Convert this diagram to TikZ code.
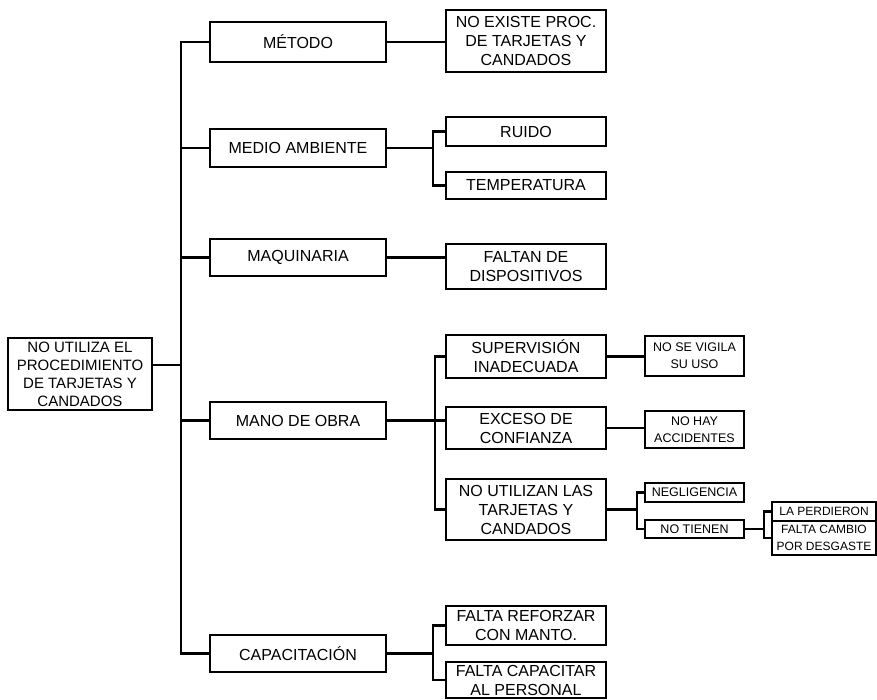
\documentclass[tikz,border=0pt]{standalone}
\usepackage{fontspec}
\setmainfont{Liberation Sans}
\tikzset{
  caja/.style={draw, line width=2.4pt, inner sep=0pt, align=center},
  cajauno/.style={caja, minimum width=176pt, font=\fontsize{16}{19}\selectfont},
  cajados/.style={caja, minimum width=160pt, font=\fontsize{16}{19}\selectfont},
  cajatres/.style={caja, minimum width=99pt, font=\fontsize{12.5}{17}\selectfont},
  cajacuatro/.style={caja, minimum width=104pt, font=\fontsize{12}{17}\selectfont},
  linea/.style={line width=2.4pt}
}
\begin{document}
\begin{tikzpicture}[x=1pt,y=-1pt]
\useasboundingbox (0,0) rectangle (877,699);
% raiz
\node[caja, minimum width=144pt, minimum height=72pt, font=\fontsize{15}{18}\selectfont] (raiz) at (80,374) {NO UTILIZA EL\\PROCEDIMIENTO\\DE TARJETAS Y\\CANDADOS};
% causas
\node[cajauno, minimum height=40pt] (metodo) at (298,42) {MÉTODO};
\node[cajauno, minimum height=38pt] (medio) at (298,148) {MEDIO AMBIENTE};
\node[cajauno, minimum height=37pt] (maq) at (298,257.5) {MAQUINARIA};
\node[cajauno, minimum height=37pt] (mano) at (298,420.5) {MANO DE OBRA};
\node[cajauno, minimum height=37pt] (capac) at (298,653.5) {CAPACITACIÓN};
% subcausas
\node[cajados, minimum height=62pt] (noexiste) at (526,41) {NO EXISTE PROC.\\DE TARJETAS Y\\CANDADOS};
\node[cajados, minimum height=29pt] (ruido) at (526,131.5) {RUIDO};
\node[cajados, minimum height=27pt] (temp) at (526,185.5) {TEMPERATURA};
\node[cajados, minimum height=45pt] (faltan) at (526,266.5) {FALTAN DE\\DISPOSITIVOS};
\node[cajados, minimum height=43pt] (superv) at (526,356.5) {SUPERVISIÓN\\INADECUADA};
\node[cajados, minimum height=42pt] (exceso) at (526,428) {EXCESO DE\\CONFIANZA};
\node[cajados, minimum height=61pt] (noutil) at (526,509.5) {NO UTILIZAN LAS\\TARJETAS Y\\CANDADOS};
\node[cajados, minimum height=39pt] (reforzar) at (526,625.5) {FALTA REFORZAR\\CON MANTO.};
\node[cajados, minimum height=36pt] (capacitar) at (526,680) {FALTA CAPACITAR\\AL PERSONAL};
% tercer nivel
\node[cajatres, minimum height=40pt] (vigila) at (694.5,356) {NO SE VIGILA\\SU USO};
\node[cajatres, minimum height=37pt] (nohay) at (694.5,429.5) {NO HAY\\ACCIDENTES};
\node[cajatres, minimum height=19pt] (neglig) at (694.5,492.5) {NEGLIGENCIA};
\node[cajatres, minimum height=18pt] (notienen) at (694.5,529) {NO TIENEN};
% cuarto nivel
\node[cajacuatro, minimum height=19pt] (perdieron) at (824,511.5) {LA PERDIERON};
\node[cajacuatro, minimum height=34pt] (cambio) at (824,538) {FALTA CAMBIO\\POR DESGASTE};
% lineas
\coordinate (tronco) at (181,0);
\coordinate (bmedio) at (433,0);
\coordinate (bmano) at (435,0);
\coordinate (bnoutil) at (637,0);
\coordinate (bnotienen) at (764,0);
\coordinate (bcapac) at (433,0);
\coordinate (raizsal) at ([yshift=9pt]raiz.east);
\draw[linea] (raizsal) -- (raizsal -| tronco);
\draw[linea] (metodo.west) -- (metodo.west -| tronco) -- (capac.west -| tronco) -- (capac.west);
\foreach \n in {medio,maq,mano}{\draw[linea] (\n.west -| tronco) -- (\n.west);}
\draw[linea] (metodo.east) -- (metodo.east -| noexiste.west);
\draw[linea] (medio.east) -- (medio.east -| bmedio);
\draw[linea] (ruido.west) -- (ruido.west -| bmedio) -- (temp.west -| bmedio) -- (temp.west);
\draw[linea] (maq.east) -- (maq.east -| faltan.west);
\draw[linea] (mano.east) -- (mano.east -| exceso.west);
\draw[linea] (superv.west) -- (superv.west -| bmano) -- (noutil.west -| bmano) -- (noutil.west);
\draw[linea] (superv.east) -- (superv.east -| vigila.west);
\draw[linea] (exceso.east) -- (exceso.east -| nohay.west);
\draw[linea] (noutil.east) -- (noutil.east -| bnoutil);
\draw[linea] (neglig.west) -- (neglig.west -| bnoutil) -- (notienen.west -| bnoutil) -- (notienen.west);
\draw[linea] (notienen.east) -- (notienen.east -| bnotienen);
\draw[linea] (perdieron.west) -- (perdieron.west -| bnotienen) -- (cambio.west -| bnotienen) -- (cambio.west);
\draw[linea] (capac.east) -- (capac.east -| bcapac);
\draw[linea] (reforzar.west) -- (reforzar.west -| bcapac) -- (capacitar.west -| bcapac) -- (capacitar.west);
\end{tikzpicture}
\end{document}
